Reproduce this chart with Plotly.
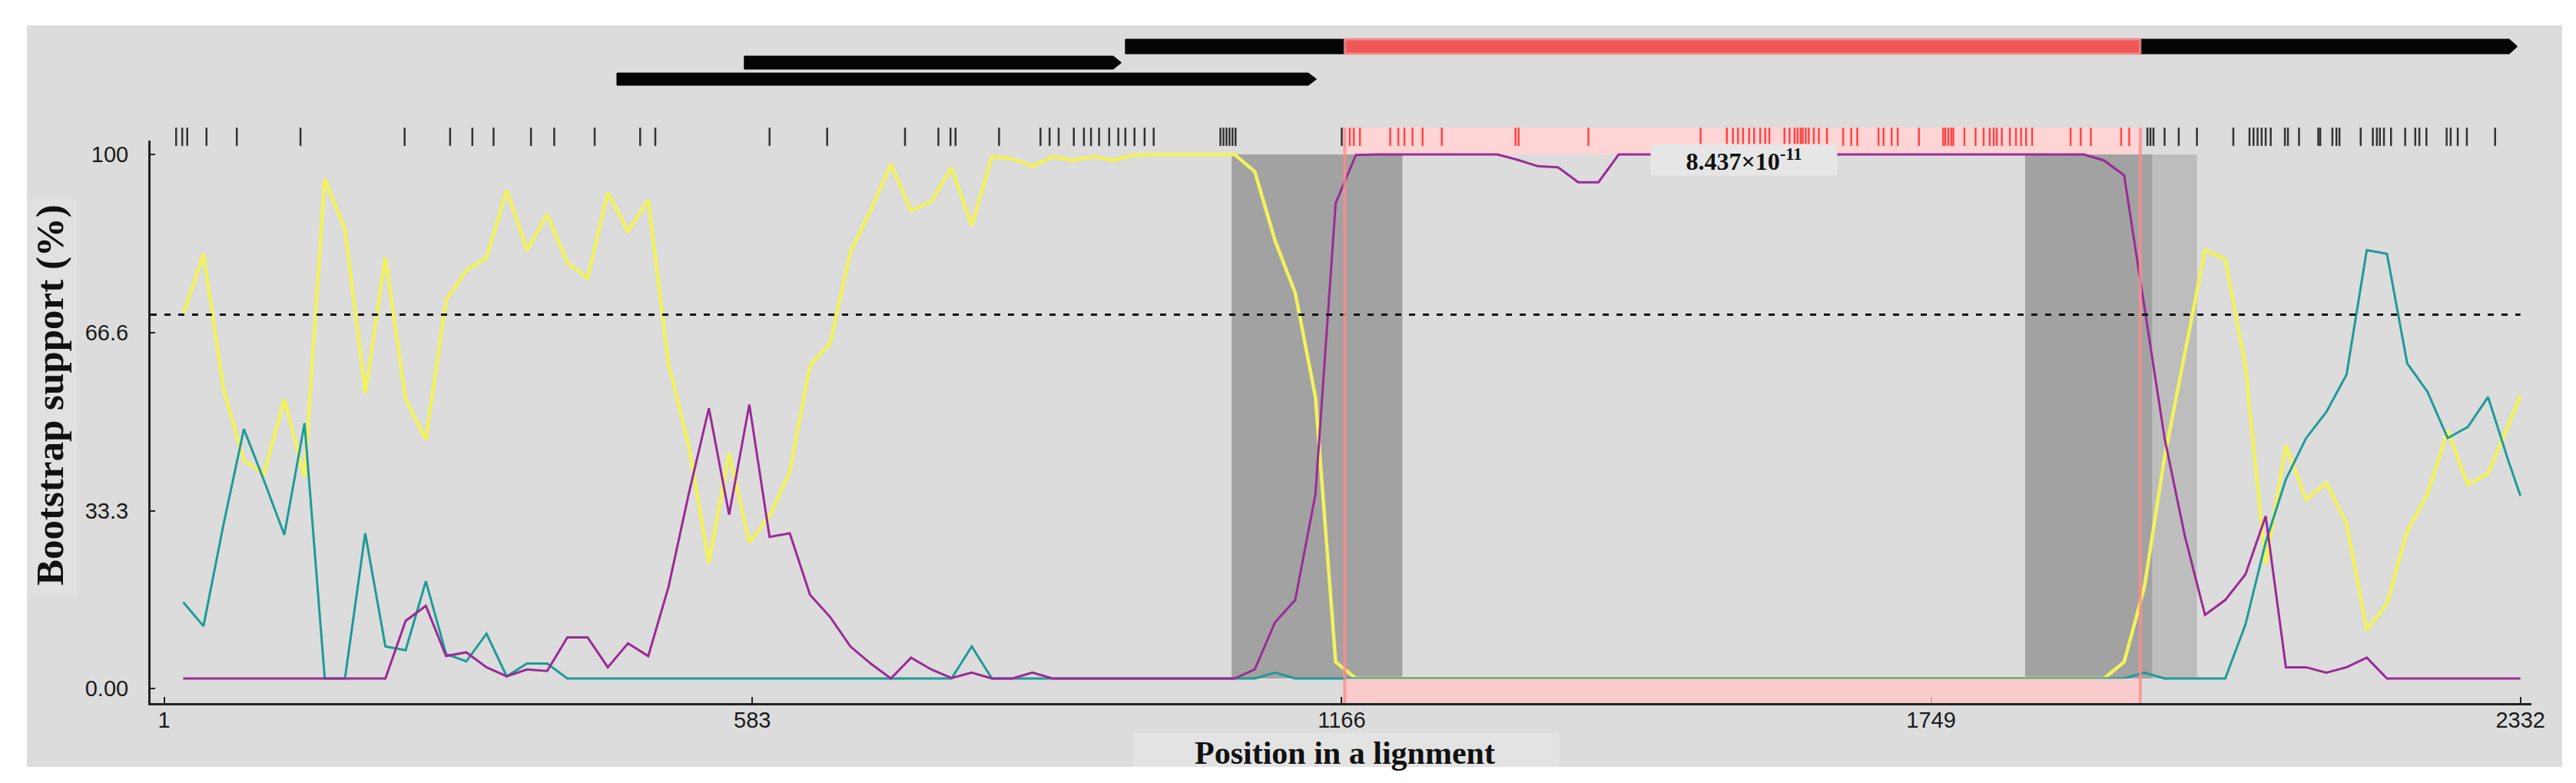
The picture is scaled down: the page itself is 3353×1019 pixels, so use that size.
"""
Bootscan / bootstrap support plot along an alignment, with gene map and
informative sites on top.
"""
import plotly.graph_objects as go

# ---------------------------------------------------------------------------
# Data
# ---------------------------------------------------------------------------
positions = [
    20, 40, 60, 80, 100, 120, 140, 160, 180, 200,
    220, 240, 260, 280, 300, 320, 340, 360, 380, 400,
    420, 440, 460, 480, 500, 520, 540, 560, 580, 600,
    620, 640, 660, 680, 700, 720, 740, 760, 780, 800,
    820, 840, 860, 880, 900, 920, 940, 960, 980, 1000,
    1020, 1040, 1060, 1080, 1100, 1120, 1140, 1160, 1180, 1200,
    1220, 1240, 1260, 1280, 1300, 1320, 1340, 1360, 1380, 1400,
    1420, 1440, 1460, 1480, 1500, 1520, 1540, 1560, 1580, 1600,
    1620, 1640, 1660, 1680, 1700, 1720, 1740, 1760, 1780, 1800,
    1820, 1840, 1860, 1880, 1900, 1920, 1940, 1960, 1980, 2000,
    2020, 2040, 2060, 2080, 2100, 2120, 2140, 2160, 2180, 2200,
    2220, 2240, 2260, 2280, 2300, 2320, 2332,
]

yellow = [
    70.1, 81.4, 56.0, 42.7, 40.3, 54.2, 39.6, 95.4, 86.0, 55.3,
    80.7, 54.2, 46.6, 72.7, 78.3, 80.7, 93.3, 82.1, 88.8, 79.7,
    76.9, 92.9, 85.6, 91.5, 60.9, 45.5, 23.5, 44.1, 27.4, 32.3,
    40.6, 60.5, 64.7, 81.8, 89.5, 98.2, 89.5, 91.2, 97.5, 86.7,
    99.6, 99.2, 97.8, 99.6, 98.9, 99.6, 98.9, 99.9, 100, 100,
    100, 100, 100, 96.8, 83.9, 74.1, 54.6, 5.0, 1.9, 1.9,
    1.9, 1.9, 1.9, 1.9, 1.9, 1.9, 1.9, 1.9, 1.9, 1.9,
    1.9, 1.9, 1.9, 1.9, 1.9, 1.9, 1.9, 1.9, 1.9, 1.9,
    1.9, 1.9, 1.9, 1.9, 1.9, 1.9, 1.9, 1.9, 1.9, 1.9,
    1.9, 1.9, 1.9, 1.9, 1.9, 1.9, 5.0, 19.0, 43.4, 63.0,
    82.1, 80.4, 60.2, 23.2, 45.5, 35.4, 38.5, 30.9, 11.0, 15.9,
    29.5, 36.4, 48.3, 38.2, 40.3, 49.3, 54.9,
]

teal = [
    16.2, 11.7, 30.9, 48.6, 38.9, 28.8, 49.7, 1.9, 1.9, 29.1,
    7.9, 7.2, 20.1, 6.5, 5.1, 10.3, 2.3, 4.7, 4.7, 1.9,
    1.9, 1.9, 1.9, 1.9, 1.9, 1.9, 1.9, 1.9, 1.9, 1.9,
    1.9, 1.9, 1.9, 1.9, 1.9, 1.9, 1.9, 1.9, 1.9, 7.9,
    1.9, 1.9, 1.9, 1.9, 1.9, 1.9, 1.9, 1.9, 1.9, 1.9,
    1.9, 1.9, 1.9, 1.9, 3.0, 1.9, 1.9, 1.9, 1.9, 1.9,
    1.9, 1.9, 1.9, 1.9, 1.9, 1.9, 1.9, 1.9, 1.9, 1.9,
    1.9, 1.9, 1.9, 1.9, 1.9, 1.9, 1.9, 1.9, 1.9, 1.9,
    1.9, 1.9, 1.9, 1.9, 1.9, 1.9, 1.9, 1.9, 1.9, 1.9,
    1.9, 1.9, 1.9, 1.9, 1.9, 1.9, 1.9, 3.0, 1.9, 1.9,
    1.9, 1.9, 12.0, 27.4, 39.2, 46.9, 51.8, 58.8, 82.1, 81.4,
    60.9, 55.6, 46.9, 49.0, 54.6, 42.7, 36.1,
]

purple = [
    1.9, 1.9, 1.9, 1.9, 1.9, 1.9, 1.9, 1.9, 1.9, 1.9,
    1.9, 12.7, 15.5, 6.1, 6.8, 4.0, 2.3, 3.6, 3.3, 9.6,
    9.6, 4.0, 8.5, 6.1, 19.0, 36.4, 52.5, 32.6, 53.2, 28.4,
    29.1, 17.6, 13.4, 7.9, 4.7, 1.9, 5.8, 3.6, 2.0, 3.0,
    1.9, 1.9, 3.0, 1.9, 1.9, 1.9, 1.9, 1.9, 1.9, 1.9,
    1.9, 1.9, 1.9, 3.6, 12.4, 16.6, 36.4, 90.9, 99.9, 100,
    100, 100, 100, 100, 100, 100, 99.0, 97.8, 97.6, 94.8,
    94.8, 100, 100, 100, 100, 100, 100, 100, 100, 100,
    100, 100, 100, 100, 100, 100, 100, 100, 100, 100,
    100, 100, 100, 100, 100, 98.9, 96.1, 71.5, 46.9, 28.6,
    13.8, 16.6, 21.4, 32.3, 4.0, 4.0, 3.0, 4.0, 5.8, 1.9,
    1.9, 1.9, 1.9, 1.9, 1.9, 1.9, 1.9,
]

# informative sites shown as ticks above the plot
informative_sites = [
    13, 19, 24, 43, 73, 136, 239, 284, 306, 327, 364, 387, 427, 472, 487,
    600, 657, 734, 767, 779, 784, 827, 868, 877, 886, 901, 911, 918, 926,
    936, 945, 952, 961, 971, 980, 1046, 1049, 1052, 1055, 1058, 1061, 1166,
    1174, 1178, 1184, 1214, 1222, 1228, 1236, 1246, 1265, 1338, 1341, 1410,
    1521, 1547, 1553, 1558, 1563, 1569, 1574, 1580, 1585, 1589, 1604, 1609,
    1614, 1617, 1620, 1622, 1625, 1628, 1633, 1638, 1646, 1662, 1670, 1676,
    1697, 1702, 1710, 1716, 1737, 1761, 1763, 1766, 1769, 1771, 1782, 1793,
    1801, 1807, 1811, 1814, 1819, 1827, 1833, 1838, 1843, 1849, 1887, 1897,
    1907, 1937, 1945, 1963, 1966, 1969, 1980, 1994, 2012, 2048, 2064, 2068,
    2072, 2076, 2080, 2085, 2099, 2102, 2113, 2132, 2134, 2146, 2150, 2153,
    2174, 2186, 2190, 2193, 2197, 2204, 2218, 2228, 2232, 2239, 2259, 2263,
    2270, 2279, 2307,
]

# recombinant region and breakpoint confidence intervals
region = (1169, 1956)
ci_dark = [(1057, 1226), (1842, 1968)]
ci_light = [(1968, 2012)]

# genes (start, end) on the three map rows, top row first
gene_start = [952, 575, 449]
gene_end = [2329, 948, 1141]

p_value_label = "8.437×10<sup>-11</sup>"
p_value_pos = (1564, 99.0)

threshold = 70
x_ticks = [1, 583, 1166, 1749, 2332]
y_ticks = [0, 33.3, 66.6, 100]
y_tick_text = ["0.00", "33.3", "66.6", "100"]

# ---------------------------------------------------------------------------
# Layout geometry (pixels)
# ---------------------------------------------------------------------------
W, H = 3353, 1019
L, R, T, B = 188, 66, 140, 112
PW, PH = W - L - R, H - T - B
PLOT_TOP = 175                      # top of the bootstrap panel
X_RANGE = [-12.3, 2342.9]
Y_RANGE = [-2.7, 102.6]
SITE_ROW = 5                        # site ticks, px above the panel top


def py(px_y):
    """pixel row -> paper y"""
    return (H - B - px_y) / PH


def pxx(px_x):
    """pixel column -> paper x"""
    return (px_x - L) / PW


BG = "#dcdcdc"

fig = go.Figure()

# --- bootstrap curves --------------------------------------------------------
fig.add_trace(go.Scatter(x=positions, y=yellow, mode="lines",
                         line=dict(color="#f2f25c", width=4.5), name="yellow"))
fig.add_trace(go.Scatter(x=positions, y=teal, mode="lines",
                         line=dict(color="#1e9b98", width=3), name="teal"))
fig.add_trace(go.Scatter(x=positions, y=purple, mode="lines",
                         line=dict(color="#9a2b95", width=3), name="purple"))

# --- informative sites (own strip above the panel) --------------------------
site_colors = ["#ff4646" if region[0] < s < region[1] else "#333333"
               for s in informative_sites]
fig.add_trace(go.Scatter(
    x=informative_sites, y=[SITE_ROW] * len(informative_sites),
    yaxis="y2", mode="markers", cliponaxis=False, hoverinfo="x",
    marker=dict(symbol="line-ns", size=17, color="#333333",
                line=dict(width=2.5, color=site_colors)),
))

shapes = []
# grey panel behind everything
shapes.append(dict(type="rect", xref="paper", yref="paper",
                   x0=pxx(27), x1=pxx(3327), y0=py(990), y1=py(25),
                   fillcolor=BG, line_width=0, layer="below"))
# lighter boxes behind the axis titles
shapes.append(dict(type="rect", xref="paper", yref="paper",
                   x0=pxx(1467), x1=pxx(2022), y0=py(990), y1=py(946),
                   fillcolor="#e3e3e3", line_width=0, layer="below"))
shapes.append(dict(type="rect", xref="paper", yref="paper",
                   x0=pxx(28), x1=pxx(92), y0=py(767), y1=py(250),
                   fillcolor="#e1e1e1", line_width=0, layer="below"))
# pink band in the informative-site row
shapes.append(dict(type="rect", xref="x", yref="paper",
                   x0=region[0], x1=region[1], y0=py(193), y1=py(158),
                   fillcolor="#ffd4d4", line_width=0, layer="below"))
# breakpoint confidence intervals
for a, b in ci_dark:
    shapes.append(dict(type="rect", xref="x", yref="y", x0=a, x1=b,
                       y0=1.9, y1=100, fillcolor="#a2a2a2", line_width=0,
                       layer="below"))
for a, b in ci_light:
    shapes.append(dict(type="rect", xref="x", yref="y", x0=a, x1=b,
                       y0=1.9, y1=100, fillcolor="#bdbdbd", line_width=0,
                       layer="below"))
# threshold
shapes.append(dict(type="line", xref="x", yref="y", x0=X_RANGE[0], x1=2332,
                   y0=threshold, y1=threshold, layer="above",
                   line=dict(color="#111111", width=3, dash="8px,10px")))
# pink band along the bottom + region edges
shapes.append(dict(type="rect", xref="x", yref="y",
                   x0=region[0], x1=region[1], y0=Y_RANGE[0], y1=1.9,
                   fillcolor="rgba(255,200,200,0.8)", line_width=0,
                   layer="above"))
for edge in region:
    shapes.append(dict(type="line", xref="x", yref="paper", x0=edge, x1=edge,
                       y0=0, y1=py(158), layer="above",
                       line=dict(color="rgba(255,140,140,0.8)", width=4)))

# gene map arrows
rows = [(43, 62), (65, 82), (87, 103)]
tip = 8
for x0, x1, (top, bot) in zip(gene_start, gene_end, rows):
    yt, yb, yc = py(top), py(bot), py((top + bot) / 2)
    path = (f"M {x0},{yb} L {x1 - tip},{yb} L {x1},{yc} "
            f"L {x1 - tip},{yt} L {x0},{yt} Z")
    shapes.append(dict(type="path", xref="x", yref="paper", path=path,
                       fillcolor="#050505", line=dict(color="#050505", width=1),
                       layer="below"))
top, bot = rows[0]
shapes.append(dict(type="rect", xref="x", yref="paper",
                   x0=region[0], x1=region[1], y0=py(bot), y1=py(top),
                   fillcolor="#f05757",
                   line=dict(color="rgba(255,160,160,0.7)", width=3),
                   layer="below"))

serif = "Liberation Serif"
annotations = [
    dict(x=p_value_pos[0], y=p_value_pos[1], xref="x", yref="y",
         xanchor="center", yanchor="middle",
         text=p_value_label, showarrow=False, bgcolor="#e6e6e6",
         width=240, height=38,
         font=dict(family=serif, size=32, color="#111111", weight="bold")),
    dict(x=pxx(1742), y=py(972), xref="paper", yref="paper",
         xanchor="center", yanchor="middle",
         text="Position in a lignment", showarrow=False,
         font=dict(family=serif, size=42, color="#111111", weight="bold")),
    dict(x=pxx(57), y=py(506), xref="paper", yref="paper",
         xanchor="center", yanchor="middle",
         text="Bootstrap support (%)", showarrow=False, textangle=-90,
         font=dict(family=serif, size=51, color="#111111", weight="bold")),
]

axis_font = dict(family="Liberation Sans", size=29, color="#1a1a1a")

fig.update_layout(
    width=W, height=H,
    margin=dict(l=L, r=R, t=T, b=B, pad=0),
    paper_bgcolor="white",
    plot_bgcolor=BG,
    showlegend=False,
    shapes=shapes,
    annotations=annotations,
    xaxis=dict(range=X_RANGE, showgrid=False, zeroline=False,
               showline=True, linecolor="#222222", linewidth=3,
               ticks="inside", ticklen=8, tickwidth=2, tickcolor="#222222",
               tickvals=x_ticks, ticktext=[str(t) for t in x_ticks],
               tickfont=axis_font, ticklabelstandoff=-6),
    yaxis=dict(range=Y_RANGE, domain=[0, py(PLOT_TOP)],
               showgrid=False, zeroline=False,
               showline=True, linecolor="#222222", linewidth=3,
               ticks="inside", ticklen=6, tickwidth=2, tickcolor="#222222",
               tickvals=y_ticks, ticktext=y_tick_text,
               tickfont=axis_font, ticklabelstandoff=20),
    yaxis2=dict(range=[0, PLOT_TOP - T], domain=[py(PLOT_TOP), 1],
                anchor="x", visible=False, fixedrange=True),
)

fig.write_html("out.html")
